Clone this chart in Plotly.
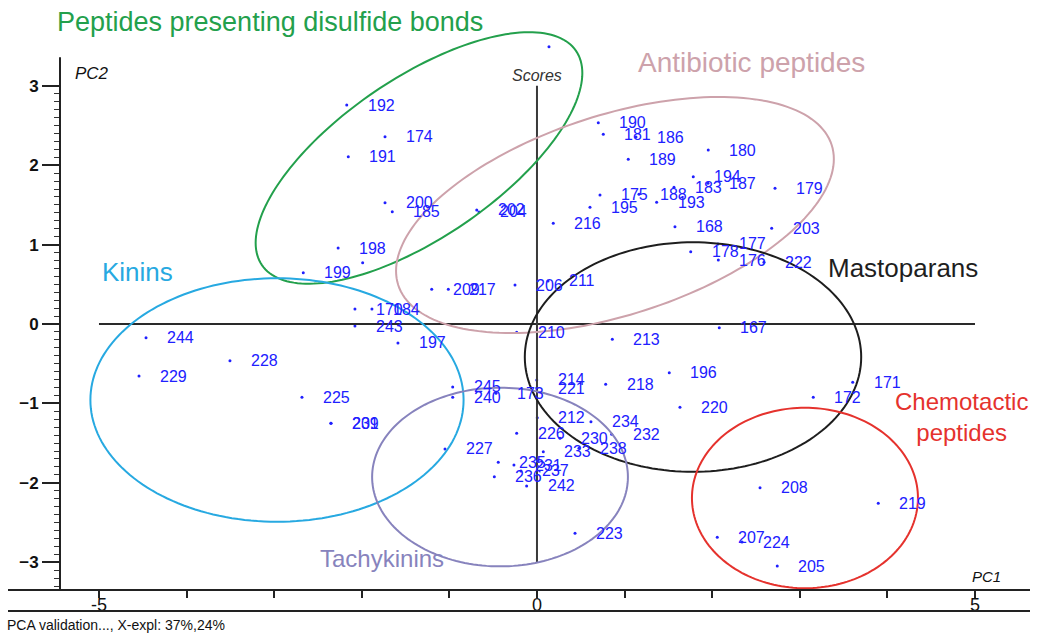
import numpy as np
import plotly.graph_objects as go

# ---- PCA score data (PC1, PC2) for each peptide ----
labels = ["192", "174", "191", "200", "185", "202", "204", "198", "199", "170",
          "184", "243", "197", "209", "217", "206", "211", "216", "190", "181",
          "186", "189", "180", "194", "183", "187", "175", "195", "188", "193",
          "168", "179", "203", "178", "177", "176", "222", "210", "213", "167",
          "196", "218", "214", "221", "173", "245", "240", "212", "234", "232",
          "220", "226", "230", "233", "238", "227", "235", "231", "237", "236",
          "242", "223", "171", "172", "208", "219", "207", "224", "205", "244",
          "229", "228", "225", "239", "201", "", ""]
pc1 = [-2.172, -1.735, -2.154, -1.735, -1.652, -0.688, -0.662, -2.270, -2.668, -2.078,
       -1.884, -2.078, -1.587, -1.202, -1.012, -0.251, 0.126, 0.186, 0.700, 0.757,
       1.130, 1.042, 1.955, 1.784, 1.564, 1.952, 0.719, 0.605, 1.164, 1.366,
       1.575, 2.717, 2.679, 1.755, 2.066, 2.070, 2.591, -0.232, 0.860, 2.081,
       1.510, 0.784, -0.003, -0.003, -0.468, -0.962, -0.962, 0.003, 0.616, 0.853,
       1.632, -0.232, 0.263, 0.072, 0.479, -1.050, -0.442, -0.263, -0.183, -0.487,
       -0.118, 0.434, 3.604, 3.154, 2.546, 3.896, 2.058, 2.340, 2.743, -4.463,
       -4.543, -3.505, -2.683, -2.352, -2.352, 0.137, -1.990]
pc2 = [2.758, 2.359, 2.107, 1.528, 1.414, 1.436, 1.411, 0.957, 0.646, 0.189,
       0.189, -0.025, -0.239, 0.437, 0.437, 0.491, 0.542, 1.268, 2.535, 2.389,
       2.355, 2.074, 2.191, 1.855, 1.722, 1.772, 1.625, 1.470, 1.634, 1.533,
       1.225, 1.709, 1.205, 0.911, 1.008, 0.806, 0.777, -0.105, -0.193, -0.047,
       -0.613, -0.759, -0.705, -0.806, -0.873, -0.793, -0.923, -1.180, -1.230, -1.389,
       -1.049, -1.377, -1.440, -1.608, -1.566, -1.574, -1.742, -1.776, -1.851, -1.923,
       -2.040, -2.636, -0.734, -0.923, -2.062, -2.258, -2.686, -2.746, -3.048, -0.173,
       -0.655, -0.462, -0.923, -1.251, -1.251, 3.492, 0.772]

# ---- peptide family ellipses (centre in scores, semi-axes in PC1 units) ----
group_names = ["Peptides presenting disulfide bonds", "Antibiotic peptides",
               "Mastoparans", "Kinins", "Tachykinins", "Chemotactic<br>peptides"]
group_colors = ["#23a04c", "#cda2ab", "#1e1e1e", "#27a9e1", "#8783bd", "#e5322d"]
ell_cx = [-1.347, 0.890, 1.781, -2.968, -0.422, 3.059]
ell_cy = [2.091, 1.373, -0.416, -0.957, -1.927, -2.191]
ell_a = [2.17, 2.60, 1.92, 2.13, 1.46, 1.29]
ell_b = [0.91, 1.14, 1.31, 1.39, 1.02, 1.03]
ell_angle = [34.3, 17.9, 0.0, 0.0, 0.0, 0.0]
# family label anchors (PC1, PC2), alignment and size
grp_lx = [-5.50, 1.13, 3.30, -4.99, -2.50, 4.85]
grp_ly = [3.80, 3.29, 0.70, 0.655, -2.947, -1.171]
grp_anchor = ["left", "left", "left", "left", "left", "center"]
grp_size = [27, 28, 26, 26, 24, 24]

x_ticks = list(range(-5, 6))
x_ticktext = ["-5", "", "", "", "", "0", "", "", "", "", "5"]
y_ticks = [-3, -2, -1, 0, 1, 2, 3]
y_minor_ticks = [round(v / 10, 1) for v in range(-33, 31) if v % 10]

W, H = 1038, 634
M = dict(l=60, r=8, t=40, b=44)
X_RANGE = [-5.445, 5.628]
Y_RANGE = [-3.350, 3.577]
PW, PH = W - M["l"] - M["r"], H - M["t"] - M["b"]
px_x = PW / (X_RANGE[1] - X_RANGE[0])
px_y = PH / (Y_RANGE[1] - Y_RANGE[0])
Y_AXIS_TOP = 3.36  # where the drawn PC2 axis line ends

SANS = "Liberation Sans, Arial, sans-serif"
NARROW = "Liberation Sans Narrow, Arial Narrow, Liberation Sans, sans-serif"


def to_paper(x, y):
    return ((np.asarray(x) - X_RANGE[0]) / (X_RANGE[1] - X_RANGE[0]),
            (np.asarray(y) - Y_RANGE[0]) / (Y_RANGE[1] - Y_RANGE[0]))


def ellipse_path(cx, cy, a, b, ang):
    # ellipse drawn in screen proportions, then mapped back to score units
    t = np.linspace(0, 2 * np.pi, 181)
    A, B = a * px_x, b * px_x
    th = np.radians(ang)
    sx = A * np.cos(t) * np.cos(th) - B * np.sin(t) * np.sin(th)
    sy = A * np.cos(t) * np.sin(th) + B * np.sin(t) * np.cos(th)
    px, py = to_paper(cx + sx / px_x, cy + sy / px_y)
    pts = [f"{u:.5f},{v:.5f}" for u, v in zip(px, py)]
    return "M " + " L ".join(pts) + " Z"


fig = go.Figure()
fig.add_trace(go.Scatter(
    x=pc1, y=pc2, mode="markers",
    marker=dict(size=3, color="#2020ff"),
    cliponaxis=False, hoverinfo="skip", showlegend=False))

shapes = []
# centre cross of the score plot
shapes.append(dict(type="line", xref="x", yref="y", x0=-5, x1=5, y0=0, y1=0,
                   line=dict(color="#2a2a2a", width=2)))
shapes.append(dict(type="line", xref="x", yref="y", x0=0, x1=0, y0=-3, y1=3,
                   line=dict(color="#3a3a3a", width=2)))
for cx, cy, a, b, ang, col in zip(ell_cx, ell_cy, ell_a, ell_b, ell_angle, group_colors):
    shapes.append(dict(type="path", xref="paper", yref="paper",
                       path=ellipse_path(cx, cy, a, b, ang),
                       line=dict(color=col, width=2)))
# PC2 axis line and bottom frame lines
shapes.append(dict(type="line", xref="paper", yref="paper", x0=0, x1=0,
                   y0=0, y1=float(to_paper(0, Y_AXIS_TOP)[1]),
                   line=dict(color="#222", width=2)))
x_left = -52 / PW
shapes.append(dict(type="line", xref="paper", yref="paper", x0=x_left, x1=1,
                   y0=0, y1=0, line=dict(color="#222", width=2)))
shapes.append(dict(type="line", xref="paper", yref="paper", x0=x_left, x1=1,
                   y0=-21 / PH, y1=-21 / PH, line=dict(color="#222", width=2)))

annotations = []
for lab, x, y in zip(labels, pc1, pc2):
    if lab:
        annotations.append(dict(x=x, y=y, xref="x", yref="y", text=lab,
                                showarrow=False, xanchor="left", yanchor="middle",
                                xshift=19, font=dict(family=SANS, size=16, color="#2020ff")))
for name, col, lx, ly, anc, fs in zip(group_names, group_colors, grp_lx, grp_ly,
                                      grp_anchor, grp_size):
    px_, py_ = to_paper(lx, ly)
    annotations.append(dict(x=float(px_), y=float(py_), xref="paper", yref="paper",
                            text=name, showarrow=False, xanchor=anc, yanchor="middle",
                            align="center", font=dict(family=SANS, size=fs, color=col)))
annotations += [
    dict(x=0.0, y=3.136, xref="x", yref="y", text="<i>Scores</i>", showarrow=False,
         xanchor="center", yanchor="middle", font=dict(family=SANS, size=16, color="#333")),
    dict(x=-5.297, y=3.161, xref="x", yref="y", text="<i>PC2</i>", showarrow=False,
         xanchor="left", yanchor="middle", font=dict(family=SANS, size=17, color="#111")),
    dict(x=4.943, y=-3.186, xref="x", yref="y", text="<i>PC1</i>", showarrow=False,
         xanchor="left", yanchor="middle", font=dict(family=SANS, size=15, color="#111")),
    dict(x=-55 / PW, y=-35 / PH, xref="paper", yref="paper",
         text="PCA validation..., X-expl: 37%,24%",
         showarrow=False, xanchor="left", yanchor="middle",
         font=dict(family=NARROW, size=14, color="#111")),
]

fig.update_layout(
    width=W, height=H, margin=M,
    paper_bgcolor="white", plot_bgcolor="white",
    shapes=shapes, annotations=annotations, showlegend=False,
    xaxis=dict(range=X_RANGE, showgrid=False, zeroline=False, showline=False,
               ticks="outside", ticklen=7, tickwidth=1.5, tickcolor="#222",
               tickvals=x_ticks, ticktext=x_ticktext, ticklabelstandoff=-9,
               tickfont=dict(family=NARROW, size=18, color="#111")),
    yaxis=dict(range=Y_RANGE, showgrid=False, zeroline=False, showline=False,
               ticks="outside", ticklen=17, tickwidth=1.5, tickcolor="#222",
               tickvals=y_ticks,
               tickfont=dict(family="Liberation Sans", size=17, color="#111", weight="bold"),
               minor=dict(tickmode="array", tickvals=y_minor_ticks, ticklen=5,
                          tickwidth=1, tickcolor="#333", ticks="outside")),
)

fig.write_html("out.html")
